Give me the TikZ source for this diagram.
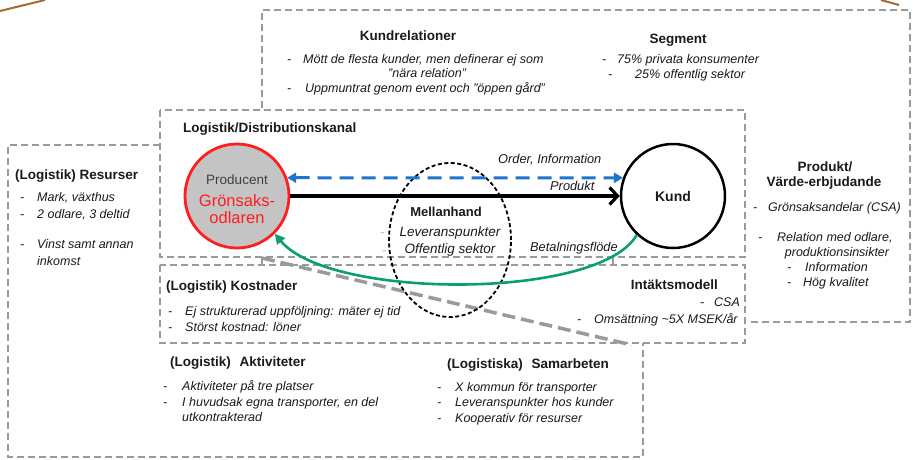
\documentclass[tikz,border=0pt]{standalone}
\usepackage{fontspec}
\setmainfont{Liberation Sans}
\usetikzlibrary{arrows.meta,shapes.geometric}

\definecolor{boxgray}{HTML}{9A9A9A}
\definecolor{flowblue}{HTML}{1F74CC}
\definecolor{flowgreen}{HTML}{0AA06E}
\definecolor{prodred}{HTML}{FF1E1E}
\definecolor{prodfill}{HTML}{C4C4C4}
\definecolor{framebrown}{HTML}{A8692E}
\definecolor{txt}{HTML}{1A1A1A}

\tikzset{
  box/.style={draw=boxgray, line width=1.8pt, dash pattern=on 7pt off 4pt},
  ttl/.style={inner sep=0pt, font=\fontsize{13.5}{16}\selectfont\bfseries, text=txt},
  itm/.style={inner sep=0pt, font=\fontsize{12.5}{15}\selectfont\itshape, text=txt,
              anchor=west, text height=9pt, text depth=3pt},
  lbl/.style={inner sep=0pt, font=\fontsize{12.8}{15}\selectfont\itshape, text=txt,
              anchor=west, text height=9pt, text depth=3pt},
}

% bullet line: name, dash x, text x, y, text
\newcommand\bul[5]{%
  \node[itm] (#1-d) at (#2,#4) {-};
  \node[itm] (#1) at (#3,#4) {#5};}

\begin{document}
\begin{tikzpicture}[x=1pt,y=-1pt]
\fill[white] (0,0) rectangle (913,459);
\useasboundingbox (0,0) rectangle (913,459);

% frame remnants at the top corners
\draw[framebrown, line width=2pt] (0,11) -- (45,0);
\draw[framebrown, line width=2pt] (881,0) -- (899,5);

% canvas regions
\draw[box] (262,108) -- (262,10) -- (910,10) -- (910,322) -- (748,322);
\draw[box] (160,110) rectangle (745,257);
\draw[box] (160,265) rectangle (745,343);
\draw[box] (160,145) -- (8,145) -- (8,457) -- (643,457) -- (643,343);
\draw[boxgray, line width=1.5pt] (262,257) -- (262,265);
\draw[boxgray, line width=1.5pt] (613,257) -- (613,265);
\draw[boxgray, line width=3.5pt, dash pattern=on 13pt off 6pt] (262,258) -- (632,345);

% actors
\node[ellipse, draw=black, line width=1.8pt, dash pattern=on 4pt off 2.5pt,
      minimum width=122pt, minimum height=154pt, inner sep=0pt] (mell) at (450,240) {};
\node[circle, draw=prodred, fill=prodfill, line width=2.8pt, minimum size=104pt,
      inner sep=0pt] (prod) at (237,196) {};
\node[circle, draw=black, line width=2.5pt, minimum size=104pt, inner sep=0pt,
      font=\fontsize{14}{16}\selectfont\bfseries, text=txt] (kund) at (673,196) {Kund};

\node[inner sep=0pt, font=\fontsize{13.5}{16}\selectfont, text=black!75] (prodlbl) at (237,180) {Producent};
\node[inner sep=0pt, align=center, font=\fontsize{16.5}{17.5}\selectfont, text=prodred] (prodname) at (237,209) {Grönsaks-\\odlaren};

% flows
\draw[flowblue, line width=3pt, dash pattern=on 14pt off 8pt,
      {Triangle[length=9pt,width=10pt]}-{Triangle[length=9pt,width=10pt]}] (prod.20) -- (kund.160);
\draw[black, line width=3.2pt, -{Straight Barb[length=8pt,width=17pt]}] (prod.east) -- (kund.west);
\draw[flowgreen, line width=2.6pt, -{Triangle[length=10pt,width=10pt]}]
  (kund.-133) .. controls (600,300) and (330,300) .. (prod.-45);

\node[lbl] (lorder) at (498,160) {Order, Information};
\node[lbl] (lprod) at (550,187) {Produkt};
\node[lbl] (lbet) at (530,248) {Betalningsflöde};

% intermediary
\node[ttl, font=\fontsize{13}{16}\selectfont\bfseries] (mellt) at (446,212) {Mellanhand};
\node[inner sep=0pt, font=\fontsize{13.5}{16}\selectfont\itshape, text=txt] (mell1) at (450,233) {Leveranspunkter};
\node[inner sep=0pt, font=\fontsize{13.5}{16}\selectfont\itshape, text=txt] (mell2) at (450,250) {Offentlig sektor};
\node[itm, text=black!30] (mell1-d) at (380,233) {-};
\node[itm, text=black!30] (mell2-d) at (382,251) {-};

% customer relations and segments
\node[ttl] (krt) at (408,36) {Kundrelationer};
\bul{kr1}{287}{303}{60}{Mött de flesta kunder, men definerar ej som}
\node[itm] (kr1b) at (388,74) {”nära relation”};
\bul{kr2}{287}{305}{89}{Uppmuntrat genom event och ”öppen gård”}

\node[ttl] (sgt) at (678,40) {Segment};
\bul{sg1}{602}{617}{60}{75\% privata konsumenter}
\bul{sg2}{608}{635}{75}{25\% offentlig sektor}

% channel
\node[ttl, anchor=west] (dist) at (183,129) {Logistik/Distributionskanal};

% resources
\node[ttl, anchor=west] (rst) at (15,176) {(Logistik) Resurser};
\bul{rs1}{20}{37}{198}{Mark, växthus}
\bul{rs2}{20}{37}{215}{2 odlare, 3 deltid}
\bul{rs3}{20}{37}{245}{Vinst samt annan}
\node[itm] (rs3b) at (37,262) {inkomst};

% costs and revenue
\node[ttl, anchor=west] (kot) at (166,287) {(Logistik) Kostnader};
\bul{ko1}{168}{185}{312}{Ej strukturerad uppföljning: mäter ej tid}
\bul{ko2}{168}{185}{328}{Störst kostnad: löner}

\node[ttl, anchor=east] (int) at (718,285) {Intäktsmodell};
\bul{in1}{700}{714}{303}{CSA}
\bul{in2}{577}{594}{320}{Omsättning \textasciitilde5X MSEK/år}

% activities
\node[ttl, anchor=west] (akt) at (170,363) {(Logistik)\hspace{5pt} Aktiviteter};
\bul{ak1}{163}{182}{387}{Aktiviteter på tre platser}
\bul{ak2}{163}{182}{403}{I huvudsak egna transporter, en del}
\node[itm] (ak2b) at (182,418) {utkontrakterad};

% partners
\node[ttl, anchor=west] (sat) at (447,365) {(Logistiska)\hspace{5pt} Samarbeten};
\bul{sa1}{437}{455}{388}{X kommun för transporter}
\bul{sa2}{437}{455}{403}{Leveranspunkter hos kunder}
\bul{sa3}{437}{455}{419}{Kooperativ för resurser}

% value proposition
\node[ttl] (pvt1) at (825,167) {Produkt/};
\node[ttl] (pvt2) at (824,183) {Värde-erbjudande};
\bul{pv1}{753}{768}{208}{Grönsaksandelar (CSA)}
\bul{pv2}{758}{777}{238}{Relation med odlare,}
\node[itm, anchor=center] (pv2b) at (837,253) {produktionsinsikter};
\bul{pv3}{787}{805}{268}{Information}
\bul{pv4}{787}{803}{283}{Hög kvalitet}
\end{tikzpicture}
\end{document}
